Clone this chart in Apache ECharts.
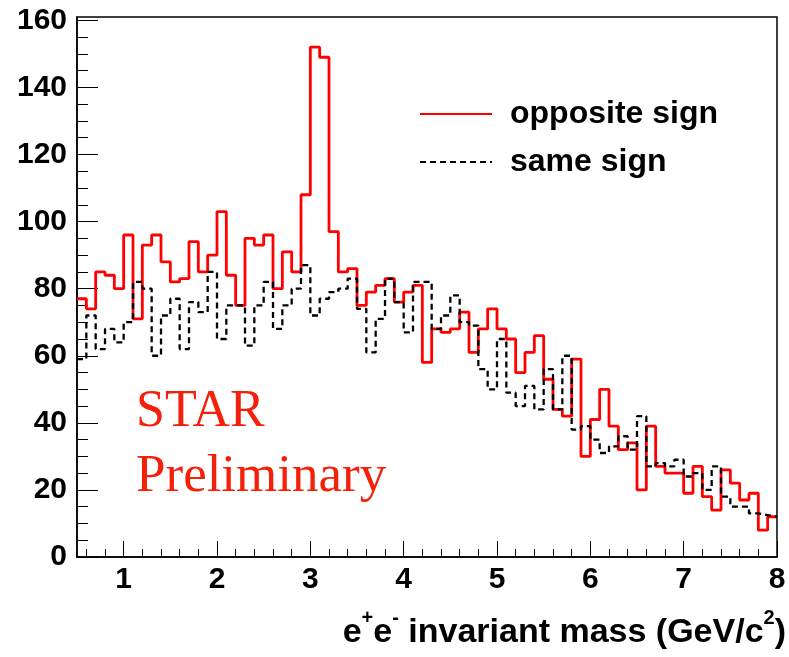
<!DOCTYPE html>
<html>
<head>
<meta charset="utf-8">
<script src="https://cdn.jsdelivr.net/npm/echarts@6/dist/echarts.min.js"></script>
<style>
html,body{margin:0;padding:0;background:#fff;}
#chart{width:789px;height:657px;}
</style>
</head>
<body>
<div id="chart"></div>
<script>
// Histogram binning (GeV/c^2)
const xMin = 0.5;
const xMax = 8.0;
const binWidth = 0.1;

// Bin contents, bins from 0.5 to 8.0 GeV/c^2 (75 bins)
const oppositeSign = [
  77, 74, 85, 84, 80,
  96, 71, 93, 96, 88, 82, 83, 94, 85, 90,
  103, 84, 75, 95, 93, 96, 80, 91, 85, 108,
  152, 149, 97, 85, 86, 75, 79, 81, 83, 76,
  79, 81, 58, 68, 67, 68, 73, 61, 68, 74,
  68, 65, 55, 61, 66, 53, 44, 42, 59, 30,
  41, 50, 39, 32, 34, 20, 39, 27, 25, 25,
  19, 27, 18, 14, 26, 22, 17, 19, 8, 12
];
const sameSign = [
  59, 72, 62, 68, 64,
  70, 82, 80, 60, 72, 77, 62, 76, 73, 85,
  65, 75, 75, 63, 75, 82, 68, 75, 80, 87,
  72, 77, 79, 80, 83, 74, 61, 71, 83, 76,
  67, 82, 82, 68, 72, 78, 70, 69, 56, 50,
  65, 49, 45, 51, 44, 56, 44, 60, 38, 39,
  35, 31, 33, 36, 32, 42, 27, 28, 27, 29,
  24, 25, 20, 27, 18, 15, 15, 13, 12.5, 12
];
const seriesNames = ['opposite sign', 'same sign'];

// Axis tick labels
const xTickLabels = [1, 2, 3, 4, 5, 6, 7, 8];
const yTickLabels = [0, 20, 40, 60, 80, 100, 120, 140, 160];

// minor tick positions
const xMinorTicks = [];
for (let k = 6; k < 80; k += 2) { if (k % 10 !== 0) xMinorTicks.push(k / 10); }
const yMinorTicks = [];
for (let k = 5; k < 161; k += 5) { if (k % 20 !== 0) yMinorTicks.push(k); }

function histSteps(vals) {
  const pts = vals.map((v, i) => [+(xMin + i * binWidth).toFixed(2), v]);
  pts.push([xMax, vals[vals.length - 1]]);
  return pts;
}

const FONT = 'Liberation Sans, Arial, Helvetica, sans-serif';
const chart = echarts.init(document.getElementById('chart'), null, {renderer: 'canvas'});

chart.setOption({
  animation: false,
  backgroundColor: '#ffffff',
  grid: {
    left: 77, right: 12, top: 17, bottom: 100,
    show: true, borderColor: '#000', borderWidth: 1.5, backgroundColor: 'transparent'
  },
  legend: {
    orient: 'vertical',
    left: 414, top: 93,
    itemWidth: 72, itemHeight: 16, itemGap: 16,
    selectedMode: false,
    itemStyle: {opacity: 0, borderWidth: 0},
    textStyle: {
      fontFamily: FONT, fontWeight: 'bold', fontSize: 32, color: '#000',
      lineHeight: 32, padding: [0, 0, 0, 13]
    },
    data: seriesNames
  },
  xAxis: [
    {
      type: 'value', min: xMin, max: xMax, position: 'bottom',
      axisLine: {show: true, onZero: false, lineStyle: {color: '#000', width: 1.5}},
      axisTick: {show: true, inside: true, length: 16, customValues: xTickLabels, lineStyle: {color: '#000', width: 1}},
      axisLabel: {show: true, customValues: xTickLabels, margin: 8, fontFamily: FONT, fontWeight: 'bold', fontSize: 30, color: '#000'},
      splitLine: {show: false}
    },
    {
      type: 'value', min: xMin, max: xMax, position: 'bottom',
      axisLine: {show: false},
      axisTick: {show: true, inside: true, length: 8, customValues: xMinorTicks, lineStyle: {color: '#000', width: 1}},
      axisLabel: {show: false},
      splitLine: {show: false}
    }
  ],
  yAxis: [
    {
      type: 'value', min: 0, max: 161, position: 'left',
      axisLine: {show: true, onZero: false, lineStyle: {color: '#000', width: 1.5}},
      axisTick: {show: true, inside: true, length: 21, customValues: yTickLabels, lineStyle: {color: '#000', width: 1}},
      axisLabel: {show: true, customValues: yTickLabels, margin: 10, fontFamily: FONT, fontWeight: 'bold', fontSize: 30, color: '#000'},
      splitLine: {show: false}
    },
    {
      type: 'value', min: 0, max: 161, position: 'left',
      axisLine: {show: false},
      axisTick: {show: true, inside: true, length: 11, customValues: yMinorTicks, lineStyle: {color: '#000', width: 1}},
      axisLabel: {show: false},
      splitLine: {show: false}
    }
  ],
  series: [
    {
      name: seriesNames[0], type: 'line', step: 'end',
      xAxisIndex: 0, yAxisIndex: 0,
      data: histSteps(oppositeSign),
      symbol: 'none', showSymbol: false,
      lineStyle: {color: '#ff0000', width: 2.8},
      itemStyle: {color: '#ff0000'},
      z: 3
    },
    {
      name: seriesNames[1], type: 'line', step: 'end',
      xAxisIndex: 0, yAxisIndex: 0,
      data: histSteps(sameSign),
      symbol: 'none', showSymbol: false,
      lineStyle: {color: '#000000', width: 2.3, type: [6, 4]},
      itemStyle: {color: '#000000'},
      z: 4
    }
  ],
  graphic: [
    {
      type: 'text', left: 136, top: 386,
      style: {text: 'STAR', font: '52px "Liberation Serif", "Times New Roman", serif', fill: '#f5200a'}
    },
    {
      type: 'text', left: 136, top: 451,
      style: {text: 'Preliminary', font: '53px "Liberation Serif", "Times New Roman", serif', fill: '#f5200a'}
    },
    {
      type: 'text', x: 786, y: 608,
      style: {
        x: 0, y: 0, align: 'right', verticalAlign: 'top',
        text: '{m|e}{s|+}{m|e}{s|-}{m| invariant mass (GeV/c}{s|2}{m|)}',
        rich: {
          m: {fontFamily: FONT, fontWeight: 'bold', fontSize: 34, color: '#000', lineHeight: 42, verticalAlign: 'bottom'},
          s: {fontFamily: FONT, fontWeight: 'bold', fontSize: 20, color: '#000', lineHeight: 42, verticalAlign: 'top'}
        }
      }
    }
  ]
});
</script>
</body>
</html>
